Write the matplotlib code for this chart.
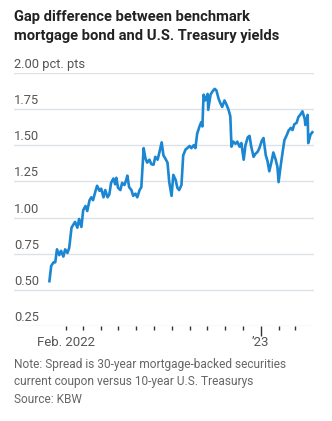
import matplotlib
matplotlib.use("Agg")
import matplotlib.pyplot as plt
import matplotlib.transforms as mtransforms
import pandas as pd

# spread between 30-yr MBS current coupon and 10-yr Treasury, pct. pts
dates = [
    "2022-01-03", "2022-01-06", "2022-01-10", "2022-01-13", "2022-01-16", "2022-01-20",
    "2022-01-23", "2022-01-27", "2022-01-30", "2022-02-03", "2022-02-06", "2022-02-10",
    "2022-02-13", "2022-02-16", "2022-02-20", "2022-02-23", "2022-02-27", "2022-03-02",
    "2022-03-06", "2022-03-09", "2022-03-13", "2022-03-16", "2022-03-19", "2022-03-23",
    "2022-03-26", "2022-03-30", "2022-04-02", "2022-04-06", "2022-04-09", "2022-04-13",
    "2022-04-16", "2022-04-19", "2022-04-23", "2022-04-26", "2022-04-28", "2022-05-01",
    "2022-05-05", "2022-05-08", "2022-05-12", "2022-05-15", "2022-05-17", "2022-05-20",
    "2022-05-24", "2022-05-27", "2022-05-31", "2022-06-03", "2022-06-07", "2022-06-10",
    "2022-06-14", "2022-06-17", "2022-06-20", "2022-06-24", "2022-06-27", "2022-07-01",
    "2022-07-04", "2022-07-08", "2022-07-11", "2022-07-15", "2022-07-18", "2022-07-21",
    "2022-07-25", "2022-07-28", "2022-08-01", "2022-08-04", "2022-08-08", "2022-08-11",
    "2022-08-14", "2022-08-18", "2022-08-21", "2022-08-25", "2022-08-28", "2022-09-01",
    "2022-09-04", "2022-09-08", "2022-09-11", "2022-09-14", "2022-09-18", "2022-09-21",
    "2022-09-23", "2022-09-25", "2022-09-28", "2022-10-02", "2022-10-03", "2022-10-07",
    "2022-10-10", "2022-10-14", "2022-10-17", "2022-10-21", "2022-10-24", "2022-10-27",
    "2022-10-31", "2022-11-03", "2022-11-07", "2022-11-10", "2022-11-12", "2022-11-15",
    "2022-11-19", "2022-11-22", "2022-11-26", "2022-11-29", "2022-12-03", "2022-12-06",
    "2022-12-10", "2022-12-13", "2022-12-16", "2022-12-20", "2022-12-23", "2022-12-27",
    "2022-12-30", "2023-01-03", "2023-01-06", "2023-01-10", "2023-01-13", "2023-01-16",
    "2023-01-20", "2023-01-23", "2023-01-27", "2023-01-30", "2023-02-01", "2023-02-04",
    "2023-02-08", "2023-02-11", "2023-02-15", "2023-02-18", "2023-02-22", "2023-02-25",
    "2023-02-28", "2023-03-04", "2023-03-07", "2023-03-11", "2023-03-14", "2023-03-18",
    "2023-03-19", "2023-03-23", "2023-03-24", "2023-03-28", "2023-03-31",
]
spread = [
    0.56, 0.665, 0.69, 0.69, 0.78, 0.74,
    0.77, 0.73, 0.78, 0.755, 0.79, 0.93,
    0.95, 0.97, 0.93, 0.99, 0.935, 1.05,
    1.08, 1.045, 1.12, 1.14, 1.12, 1.18,
    1.22, 1.185, 1.20, 1.14, 1.19, 1.14,
    1.16, 1.24, 1.27, 1.23, 1.275, 1.205,
    1.19, 1.24, 1.225, 1.26, 1.29, 1.21,
    1.19, 1.15, 1.165, 1.14, 1.19, 1.21,
    1.48, 1.41, 1.38, 1.40, 1.37, 1.365,
    1.42, 1.40, 1.45, 1.52, 1.43, 1.41,
    1.38, 1.245, 1.15, 1.295, 1.26, 1.205,
    1.19, 1.225, 1.43, 1.47, 1.48, 1.495,
    1.48, 1.50, 1.48, 1.58, 1.63, 1.66,
    1.63, 1.85, 1.81, 1.855, 1.745, 1.85,
    1.87, 1.89, 1.88, 1.82, 1.79, 1.765,
    1.81, 1.785, 1.745, 1.70, 1.49, 1.525,
    1.51, 1.525, 1.49, 1.515, 1.40, 1.50,
    1.555, 1.565, 1.49, 1.42, 1.44, 1.455,
    1.48, 1.53, 1.55, 1.43, 1.39, 1.32,
    1.39, 1.45, 1.40, 1.35, 1.245, 1.34,
    1.455, 1.535, 1.57, 1.60, 1.62, 1.605,
    1.645, 1.655, 1.695, 1.715, 1.735, 1.68,
    1.64, 1.71, 1.515, 1.575, 1.59,
]

y_ticks = [0.25, 0.50, 0.75, 1.00, 1.25, 1.50, 1.75, 2.00]
y_labels = ["0.25", "0.50", "0.75", "1.00", "1.25", "1.50", "1.75", "2.00 pct. pts"]
x_label_dates = ["2022-02-01", "2023-01-01"]
x_labels = ["Feb. 2022", "\u201923"]

title = "Gap difference between benchmark\nmortgage bond and U.S. Treasury yields"
note = ("Note: Spread is 30-year mortgage-backed securities\n"
        "current coupon versus 10-year U.S. Treasurys\n"
        "Source: KBW")

plt.rcParams['font.family'] = ['Roboto', 'DejaVu Sans']

fig = plt.figure(figsize=(3.32, 4.21), dpi=100)
ax = fig.add_axes([0.042, 0.2257, 0.904, 0.601])

ax.plot(pd.to_datetime(dates), spread, color="#1b86d1", lw=1.9,
        solid_joinstyle="round", zorder=3)

ax.set_ylim(0.25, 2.0)
ax.set_xlim(pd.Timestamp("2021-11-03"), pd.Timestamp("2023-04-03"))
for s in ax.spines.values():
    s.set_visible(False)

# horizontal grid, labels sit on top of the lines
ax.set_yticks(y_ticks)
ax.tick_params(axis="y", length=0, labelleft=False)
ax.grid(axis="y", color="#dde2e6", lw=1)
trans = mtransforms.blended_transform_factory(ax.transAxes, ax.transData)
off = mtransforms.offset_copy(trans, fig=fig, x=0, y=2, units="dots")
for v, lab in zip(y_ticks, y_labels):
    ax.text(0, v, lab, transform=off, ha="left", va="bottom",
            fontsize=9.3, color="#555555")

# month ticks
ax.set_xticks(pd.to_datetime(x_label_dates))
ax.set_xticklabels(x_labels)
ax.set_xticks(pd.date_range("2022-02-01", "2023-03-01", freq="MS"), minor=True)
ax.tick_params(axis="x", which="both", length=3, width=1, color="#333333",
               labelsize=9.5, labelcolor="#555555", pad=4)
ax.xaxis.get_major_ticks()[1].tick1line.set_markersize(7)

fig.text(14 / 332, 1 - 10 / 421, title, ha="left", va="top", fontsize=10.6,
         fontweight="bold", color="#222222", linespacing=1.45)
fig.text(14 / 332, 1 - 358 / 421, note, ha="left", va="top", fontsize=8.6,
         color="#666666", linespacing=1.45)

fig.savefig("out.png", dpi=100)
